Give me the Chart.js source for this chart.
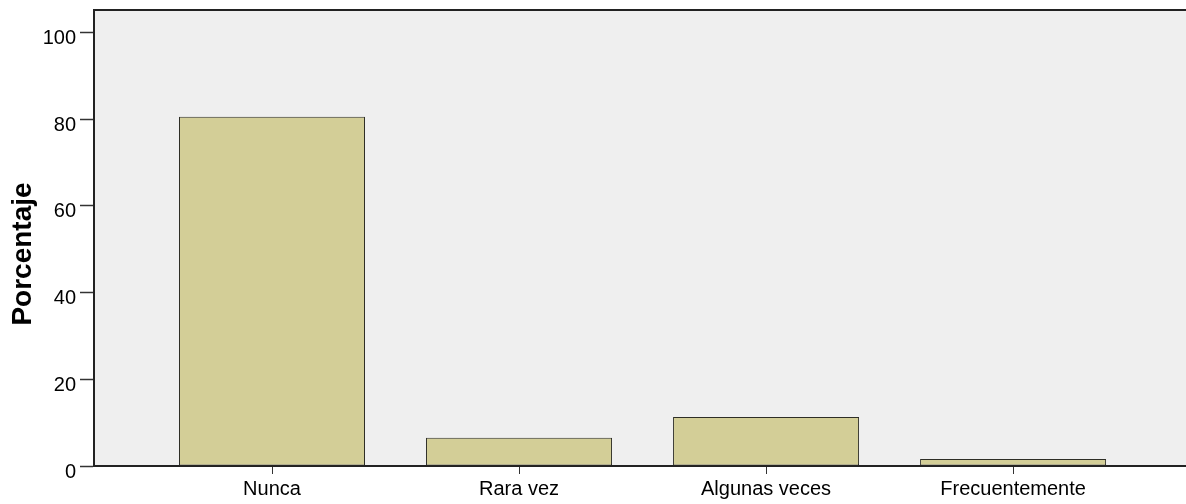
<!DOCTYPE html>
<html><head><meta charset="utf-8">
<script src="https://cdn.jsdelivr.net/npm/chart.js@4.4.1/dist/chart.umd.min.js"></script>
<style>html,body{margin:0;padding:0;background:#fff;overflow:hidden}</style>
</head><body>
<canvas id="c" width="1186" height="504"></canvas>
<script>
const categories = ['Nunca', 'Rara vez', 'Algunas veces', 'Frecuentemente'];
const percentages = [80.6, 6.5, 11.3, 1.6];
const yTickValues = [0, 20, 40, 60, 80, 100];
const yAxisTitle = 'Porcentaje';

const FONT = "'Liberation Sans', Arial, sans-serif";
const positions = categories.map((_, i) => i + 1);

const plotFrame = {
  id: 'plotFrame',
  beforeDraw(chart) {
    const {ctx, chartArea: a} = chart;
    ctx.save();
    ctx.fillStyle = '#efefef';
    ctx.fillRect(a.left, a.top, a.right - a.left, a.bottom - a.top);
    ctx.restore();
  },
  afterDraw(chart) {
    const {ctx, chartArea: a} = chart;
    ctx.save();
    ctx.strokeStyle = '#222';
    ctx.lineWidth = 2;
    ctx.beginPath();
    ctx.moveTo(a.left - 1, a.top);
    ctx.lineTo(a.right, a.top);
    ctx.stroke();
    ctx.fillStyle = '#000';
    ctx.font = "bold 28px " + FONT;
    ctx.textAlign = 'center';
    ctx.textBaseline = 'alphabetic';
    ctx.translate(31, 254);
    ctx.rotate(-Math.PI / 2);
    ctx.fillText(yAxisTitle, 0, 0);
    ctx.restore();
  }
};

new Chart(document.getElementById('c'), {
  type: 'bar',
  data: {
    datasets: [{
      data: positions.map((x, i) => ({x: x, y: percentages[i]})),
      backgroundColor: '#d3ce97',
      borderColor: '#2e2e26',
      borderWidth: 1,
      borderSkipped: false,
      barPercentage: 0.753,
      categoryPercentage: 1
    }]
  },
  options: {
    responsive: false,
    animation: false,
    devicePixelRatio: 1,
    layout: {padding: {top: 10, left: 0, right: 0, bottom: 0}},
    plugins: {legend: {display: false}, tooltip: {enabled: false}},
    scales: {
      x: {
        type: 'linear',
        offset: false,
        min: 0.2794,
        max: 4.70,
        afterBuildTicks(s) { s.ticks = positions.map(v => ({value: v})); },
        afterFit(s) { s.height = 38; s.paddingLeft = 0; s.paddingRight = 0; },
        ticks: {
          callback: (v) => categories[Math.round(v) - 1],
          font: {family: FONT, size: 20},
          color: '#000',
          padding: 3,
          maxRotation: 0,
          autoSkip: false
        },
        grid: {offset: false, drawOnChartArea: false, drawTicks: true, tickLength: 8, tickColor: '#333', tickWidth: 1},
        border: {display: true, color: '#222', width: 2}
      },
      y: {
        type: 'linear',
        min: 0,
        max: 105.2,
        afterBuildTicks(s) { s.ticks = yTickValues.map(v => ({value: v})); },
        afterFit(s) { s.width = 94; s.paddingTop = 0; s.paddingBottom = 0; },
        ticks: {
          font: {family: FONT, size: 20},
          color: '#000',
          padding: 4,
          labelOffset: 6
        },
        grid: {drawOnChartArea: false, drawTicks: true, tickLength: 14, tickColor: '#333', tickWidth: 1.5},
        border: {display: true, color: '#222', width: 2}
      }
    }
  },
  plugins: [plotFrame]
});
</script>
</body></html>
